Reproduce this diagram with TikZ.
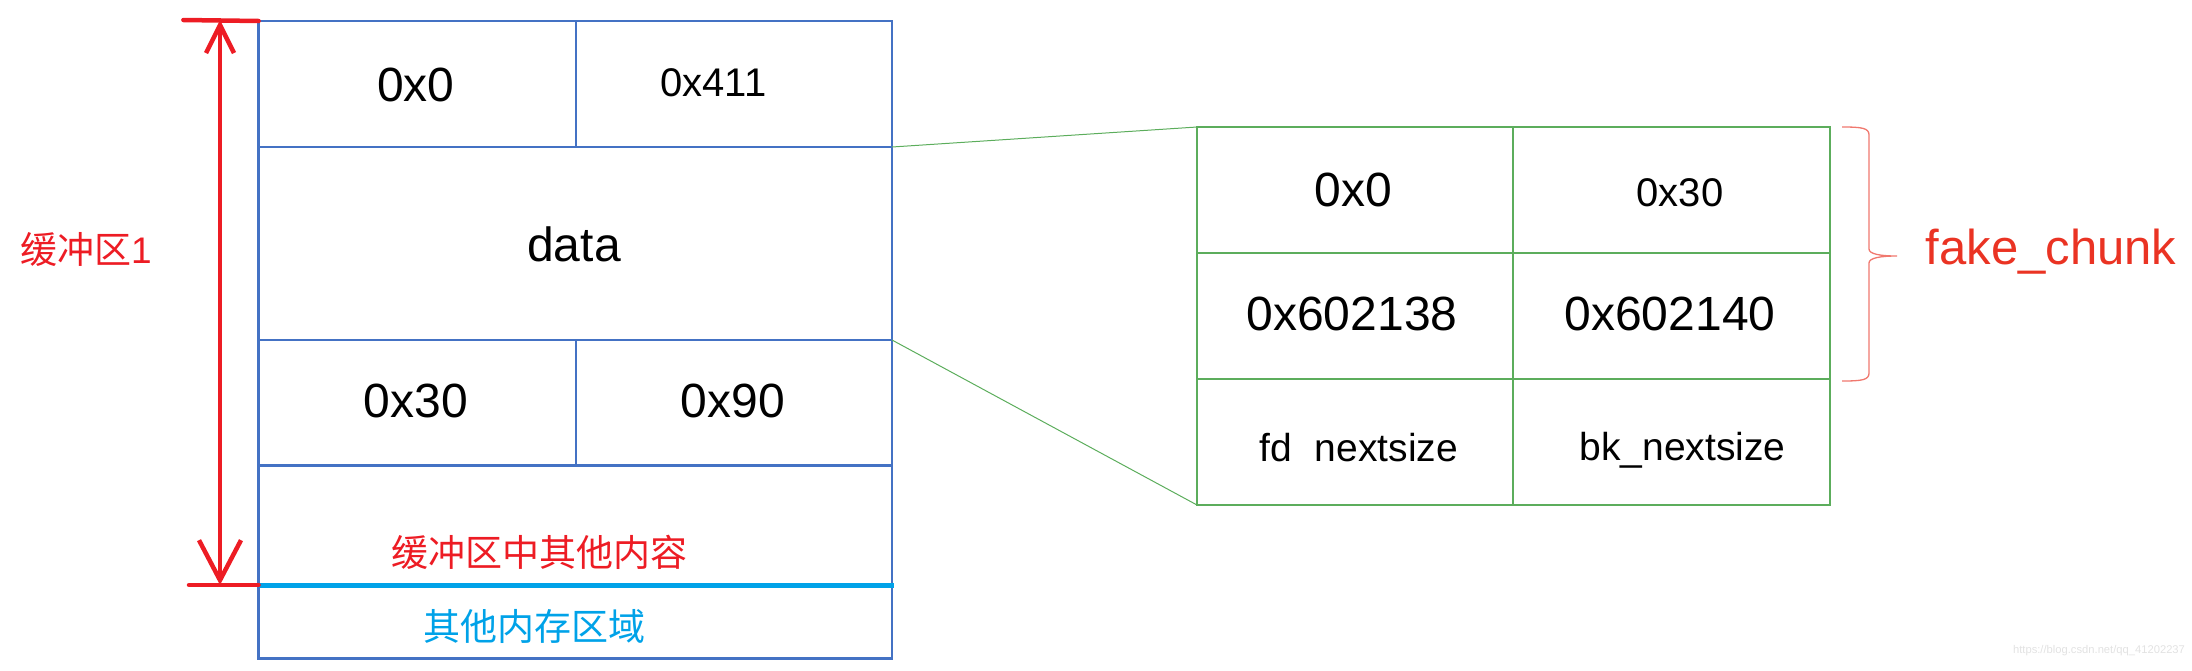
\documentclass[tikz,border=0pt]{standalone}
\usepackage{fontspec}
\setmainfont{Liberation Sans}
\newfontfamily\cjk{Noto Sans CJK SC}
\usetikzlibrary{arrows.meta}
\definecolor{boxblue}{RGB}{68,114,196}
\definecolor{boxgreen}{RGB}{92,173,92}
\definecolor{arrred}{RGB}{237,28,36}
\definecolor{txtred}{RGB}{234,51,35}
\definecolor{bracered}{RGB}{240,120,110}
\definecolor{memcyan}{RGB}{0,162,232}
\definecolor{wmgray}{RGB}{226,226,226}
\begin{document}
\begin{tikzpicture}[x=1pt,y=-1pt,
  bcell/.style={draw=boxblue,line width=2.5pt,rectangle,inner sep=0pt,outer sep=0pt,anchor=north west},
  gcell/.style={draw=boxgreen,line width=2.8pt,rectangle,inner sep=0pt,outer sep=0pt,anchor=north west},
  big/.style={inner sep=0pt,font=\fontsize{48pt}{50pt}\selectfont},
  mid/.style={inner sep=0pt,font=\fontsize{40pt}{42pt}\selectfont},
  small/.style={inner sep=0pt,font=\fontsize{39pt}{41pt}\selectfont},
  cjktxt/.style={inner sep=0pt,font=\cjk\fontsize{37pt}{39pt}\selectfont},
  zoomline/.style={draw=boxgreen,line width=1pt},
  redline/.style={draw=arrred,line width=4.5pt,line cap=round},
]
\useasboundingbox (0,0) rectangle (2192,670);
% left box
\node[bcell,minimum width=317.4pt,minimum height=126pt] (la) at (258.6,21) {};
\node[bcell,minimum width=316pt,minimum height=126pt] (lb) at (576,21) {};
\node[bcell,minimum width=633.4pt,minimum height=193pt] (ldata) at (258.6,147) {};
\node[bcell,minimum width=317.4pt,minimum height=125.5pt] (lc) at (258.6,340) {};
\node[bcell,minimum width=316pt,minimum height=125.5pt] (ld) at (576,340) {};
\node[bcell,minimum width=633.4pt,minimum height=119.5pt] (lrest) at (258.6,465.5) {};
\node[bcell,minimum width=633.4pt,minimum height=73.5pt] (lother) at (258.6,585) {};
\draw[draw=memcyan,line width=5pt] (lother.north west) -- ([xshift=2pt]lother.north east);
% texts left
\node[big] (t00) at (416,85) {0x0};
\node[mid] (t411) at (713.5,83) {0x411};
\node[big] (tdata) at (574,244) {data};
\node[big] (t30) at (416,401) {0x30};
\node[big] (t90) at (733,401) {0x90};
\node[cjktxt,text=arrred] (trest) at (539.5,552) {缓冲区中其他内容};
\node[cjktxt,text=memcyan] (tother) at (534,626.5) {其他内存区域};
\node[inner sep=0pt,font=\fontsize{37pt}{39pt}\selectfont,text=arrred] (tbuf) at (86,250) {{\cjk 缓冲区}1};
% red arrow
\coordinate (tickA) at (183.4,20);
\coordinate (tickB) at (189,585);
\coordinate (atop) at (220,20);
\coordinate (abot) at (220,585);
\draw[redline] (tickA) -- (la.north west);
\draw[redline] (tickB) -- (lrest.south west);
\draw[redline,{Straight Barb[length=28pt,width=28pt]}-{Straight Barb[length=40pt,width=42pt]}] (atop) -- (abot);
% right box
\node[gcell,minimum width=316pt,minimum height=126pt] (ra) at (1197,127) {};
\node[gcell,minimum width=317pt,minimum height=126pt] (rb) at (1513,127) {};
\node[gcell,minimum width=316pt,minimum height=126pt] (rc) at (1197,253) {};
\node[gcell,minimum width=317pt,minimum height=126pt] (rd) at (1513,253) {};
\node[gcell,minimum width=316pt,minimum height=126pt] (re) at (1197,379) {};
\node[gcell,minimum width=317pt,minimum height=126pt] (rf) at (1513,379) {};
\node[big] (r00) at (1353.5,189.5) {0x0};
\node[mid] (r30) at (1680,193) {0x30};
\node[big] (r38) at (1352,314) {0x602138};
\node[big] (r40) at (1670,314) {0x602140};
\node[small] (rfd) at (1359,448) {fd\hspace{0.3em} nextsize};
\node[small] (rbk) at (1682.5,450) {bk\_nextsize};
% zoom connectors
\draw[zoomline] (ldata.north east) -- (ra.north west);
\draw[zoomline] (ldata.south east) -- (re.south west);
% brace
\draw[draw=bracered,line width=1.3pt] (1842,127) .. controls (1862,127) and (1869,128) .. (1869,135) -- (1869,249) .. controls (1869,254) and (1880,256) .. (1897,256) .. controls (1880,256) and (1869,258) .. (1869,263) -- (1869,373) .. controls (1869,380) and (1862,381) .. (1842,381);
\node[inner sep=0pt,font=\fontsize{49pt}{51pt}\selectfont,text=txtred] (fake) at (2051,252) {fake\_chunk};
% watermark
\node[inner sep=0pt,font=\fontsize{11.2pt}{12pt}\selectfont,text=wmgray] (wm) at (2099,651) {https://blog.csdn.net/qq\_41202237};
\end{tikzpicture}
\end{document}
